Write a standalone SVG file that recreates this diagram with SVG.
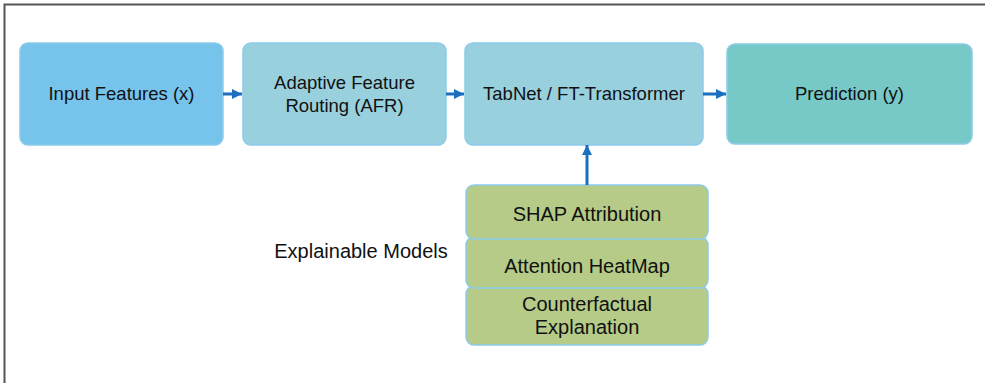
<svg xmlns="http://www.w3.org/2000/svg" width="985" height="383" viewBox="0 0 985 383">
<style>
text{font-family:"Liberation Sans",Arial,sans-serif;font-size:18.5px;fill:#111;text-anchor:middle}
text.g{font-size:20px}
.n{stroke:#8ccbea;stroke-width:1.5}
.c{stroke:#1a6fbf;stroke-width:3;fill:none}
</style>
<defs>
<marker id="ah" markerWidth="10" markerHeight="10" refX="10" refY="5" orient="auto" markerUnits="userSpaceOnUse">
<path d="M0,0 L10,5 L0,10 Z" fill="#1a6fbf"/>
</marker>
</defs>
<rect width="985" height="383" fill="#fff"/>
<path d="M4.5,383 V4.5 H985" fill="none" stroke="#555" stroke-width="2"/>
<g id="input"><rect class="n" x="20" y="43" width="203" height="102" rx="8" fill="#76c3ec"/><text x="121.5" y="100">Input Features (x)</text></g>
<g id="afr"><rect class="n" x="243" y="43" width="203" height="102" rx="8" fill="#98d0dd"/><text x="344.5" y="89">Adaptive Feature</text><text x="344.5" y="112">Routing (AFR)</text></g>
<g id="tabnet"><rect class="n" x="465" y="43" width="238" height="102" rx="8" fill="#98d0dd"/><text x="584" y="100">TabNet / FT-Transformer</text></g>
<g id="prediction"><rect class="n" x="727" y="44" width="245" height="100" rx="8" fill="#77c9c8"/><text x="849.5" y="100">Prediction (y)</text></g>
<g id="explainable-label"><text class="g" x="361" y="258">Explainable Models</text></g>
<g id="counterfactual"><rect class="n" x="466" y="286" width="242" height="59" rx="8" fill="#b5cb87"/><text class="g" x="587" y="311">Counterfactual</text><text class="g" x="587" y="334">Explanation</text></g>
<g id="attention"><rect class="n" x="466" y="237" width="242" height="51" rx="8" fill="#b5cb87"/><text class="g" x="587" y="273">Attention HeatMap</text></g>
<g id="shap"><rect class="n" x="466" y="185" width="242" height="54" rx="8" fill="#b5cb87"/><text class="g" x="587" y="221">SHAP Attribution</text></g>
<g id="connectors">
<line class="c" x1="223" y1="94" x2="242" y2="94" marker-end="url(#ah)"/>
<line class="c" x1="446" y1="94" x2="464" y2="94" marker-end="url(#ah)"/>
<line class="c" x1="703" y1="94" x2="726" y2="94" marker-end="url(#ah)"/>
<line class="c" x1="587" y1="185" x2="587" y2="145" marker-end="url(#ah)"/>
</g>
</svg>
